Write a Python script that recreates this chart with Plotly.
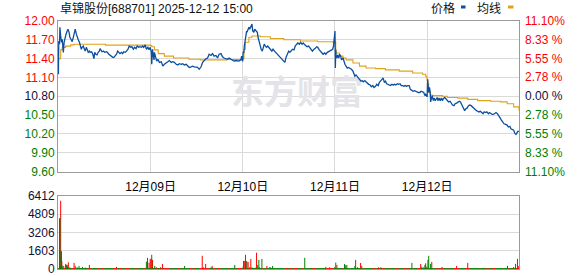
import plotly.graph_objects as go

# ---------------- data ----------------
TITLE = "卓锦股份[688701] 2025-12-12 15:00"
DAY_LABELS = ["12月09日", "12月10日", "12月11日", "12月12日"]
PREV_CLOSE = 10.80
MIN_PER_DAY = 241
N_DAYS = 5

PRICE_TICKS = [12.00, 11.70, 11.40, 11.10, 10.80, 10.50, 10.20, 9.90, 9.60]
PCT_TEXT = ["11.10%", "8.33 %", "5.55 %", "2.78 %", "0.00 %", "2.78 %", "5.55 %", "8.33 %", "11.10%"]
VOL_TICKS = [0, 1603, 3206, 4809, 6412]

# price samples per day: (minute of the trading day, price)
d1_min = [0, 1, 3, 4, 6, 8, 10, 11, 13, 15, 17, 20, 23, 25, 28, 30, 33, 36, 39, 42, 44, 47, 49, 52, 55, 57, 60, 62, 65, 68, 70, 73, 75, 78, 81, 83, 87, 90, 93, 95, 98, 101, 104, 107, 109, 112, 114, 118, 121, 125, 128, 132, 135, 139, 142, 145, 149, 152, 155, 158, 161, 165, 168, 171, 175, 178, 182, 185, 189, 192, 196, 199, 203, 206, 210, 213, 217, 220, 223, 227, 230, 234, 237, 240]
d1_price = [11.15, 11.68, 11.63, 11.90, 11.76, 11.66, 11.71, 11.60, 11.50, 11.66, 11.74, 11.79, 11.84, 11.87, 11.82, 11.74, 11.71, 11.67, 11.74, 11.84, 11.87, 11.79, 11.74, 11.70, 11.66, 11.60, 11.55, 11.58, 11.60, 11.55, 11.52, 11.58, 11.55, 11.50, 11.52, 11.50, 11.51, 11.47, 11.40, 11.50, 11.47, 11.46, 11.50, 11.52, 11.56, 11.52, 11.51, 11.52, 11.50, 11.51, 11.50, 11.47, 11.45, 11.43, 11.42, 11.42, 11.45, 11.47, 11.52, 11.50, 11.48, 11.50, 11.48, 11.51, 11.50, 11.52, 11.55, 11.60, 11.58, 11.59, 11.55, 11.58, 11.56, 11.60, 11.58, 11.59, 11.58, 11.60, 11.58, 11.62, 11.55, 11.58, 11.54, 11.58]

d2_min = [0, 2, 3, 5, 7, 9, 10, 13, 16, 19, 23, 28, 32, 36, 41, 45, 49, 54, 58, 62, 67, 71, 75, 80, 84, 88, 93, 97, 101, 106, 110, 114, 119, 123, 127, 132, 136, 140, 145, 149, 153, 158, 162, 166, 171, 175, 179, 184, 188, 192, 197, 201, 205, 210, 214, 218, 223, 227, 231, 236, 238, 240]
d2_price = [11.55, 11.50, 11.31, 11.55, 11.45, 11.38, 11.50, 11.44, 11.36, 11.39, 11.34, 11.35, 11.28, 11.31, 11.34, 11.35, 11.37, 11.34, 11.35, 11.34, 11.31, 11.30, 11.32, 11.31, 11.32, 11.30, 11.31, 11.28, 11.26, 11.27, 11.28, 11.27, 11.27, 11.26, 11.23, 11.27, 11.34, 11.37, 11.40, 11.41, 11.47, 11.45, 11.48, 11.44, 11.45, 11.41, 11.47, 11.48, 11.43, 11.41, 11.40, 11.39, 11.41, 11.39, 11.38, 11.36, 11.37, 11.36, 11.36, 11.38, 11.44, 11.37]

d3_min = [0, 1, 3, 4, 6, 8, 10, 11, 13, 16, 18, 21, 24, 26, 29, 31, 34, 38, 40, 43, 45, 48, 51, 53, 56, 59, 62, 65, 69, 72, 76, 79, 83, 86, 90, 93, 97, 100, 104, 107, 110, 113, 116, 120, 123, 127, 130, 134, 137, 141, 144, 148, 151, 155, 158, 162, 165, 168, 172, 175, 179, 182, 186, 189, 193, 196, 200, 203, 207, 210, 214, 217, 221, 224, 228, 231, 235, 237, 239, 240]
d3_price = [11.36, 11.50, 11.50, 11.60, 11.71, 11.79, 11.84, 11.82, 11.87, 11.90, 11.87, 11.92, 11.95, 11.84, 11.82, 11.87, 11.84, 11.82, 11.74, 11.66, 11.60, 11.55, 11.52, 11.58, 11.63, 11.60, 11.58, 11.60, 11.58, 11.55, 11.52, 11.55, 11.52, 11.50, 11.47, 11.45, 11.42, 11.39, 11.37, 11.35, 11.34, 11.42, 11.47, 11.52, 11.50, 11.52, 11.55, 11.54, 11.60, 11.63, 11.65, 11.63, 11.66, 11.63, 11.65, 11.62, 11.60, 11.59, 11.60, 11.58, 11.55, 11.52, 11.55, 11.56, 11.59, 11.58, 11.54, 11.52, 11.50, 11.47, 11.49, 11.47, 11.50, 11.51, 11.52, 11.54, 11.55, 11.60, 11.71, 11.71]

d4_min = [0, 1, 2, 3, 5, 7, 10, 12, 15, 17, 21, 23, 26, 29, 32, 35, 38, 41, 43, 47, 49, 52, 55, 58, 61, 64, 68, 71, 74, 78, 81, 85, 88, 92, 95, 99, 102, 106, 109, 113, 116, 120, 123, 126, 129, 132, 135, 139, 142, 145, 149, 152, 156, 159, 163, 166, 170, 173, 177, 180, 184, 187, 191, 194, 197, 201, 204, 208, 211, 215, 218, 222, 225, 229, 232, 235, 237, 240]
d4_price = [11.84, 11.25, 11.54, 11.44, 11.41, 11.46, 11.41, 11.47, 11.44, 11.38, 11.41, 11.36, 11.31, 11.28, 11.25, 11.26, 11.25, 11.25, 11.23, 11.20, 11.15, 11.12, 11.14, 11.11, 11.09, 11.07, 11.04, 11.05, 11.03, 11.05, 11.03, 11.00, 10.99, 10.98, 10.95, 10.97, 10.94, 10.96, 10.99, 10.97, 11.02, 11.05, 11.07, 11.09, 11.02, 11.04, 11.00, 10.99, 10.98, 10.97, 10.99, 10.98, 10.99, 10.98, 11.00, 10.99, 11.00, 10.97, 10.97, 10.96, 10.97, 10.96, 10.97, 10.97, 10.91, 10.89, 10.88, 10.89, 10.88, 10.86, 10.86, 10.86, 10.88, 10.87, 10.86, 10.81, 10.83, 10.80]

d5_min = [0, 1, 2, 4, 6, 8, 9, 11, 13, 16, 18, 21, 23, 26, 28, 31, 34, 37, 40, 42, 46, 49, 53, 56, 60, 63, 66, 70, 73, 77, 80, 84, 87, 91, 94, 98, 101, 104, 108, 111, 115, 118, 122, 125, 129, 132, 135, 139, 142, 146, 149, 153, 156, 160, 163, 167, 170, 173, 177, 180, 184, 187, 191, 194, 198, 201, 205, 209, 212, 216, 219, 223, 226, 229, 232, 235, 237, 240]
d5_price = [10.80, 11.07, 10.92, 10.86, 10.94, 10.86, 10.71, 10.76, 10.81, 10.73, 10.77, 10.73, 10.76, 10.78, 10.73, 10.77, 10.73, 10.77, 10.73, 10.76, 10.78, 10.76, 10.72, 10.71, 10.72, 10.68, 10.66, 10.65, 10.68, 10.69, 10.71, 10.72, 10.71, 10.65, 10.60, 10.57, 10.60, 10.61, 10.65, 10.66, 10.65, 10.63, 10.60, 10.59, 10.57, 10.56, 10.55, 10.56, 10.54, 10.52, 10.55, 10.54, 10.55, 10.52, 10.54, 10.52, 10.51, 10.51, 10.52, 10.54, 10.52, 10.48, 10.45, 10.42, 10.39, 10.36, 10.35, 10.34, 10.31, 10.32, 10.28, 10.26, 10.26, 10.21, 10.19, 10.22, 10.24, 10.24]

# average-price line samples per day
a1_min = [0, 3, 6, 10, 19, 32, 41, 118, 123, 240]
a1_val = [11.40, 11.40, 11.54, 11.58, 11.60, 11.62, 11.63, 11.63, 11.615, 11.615]
a2_min = [0, 3, 10, 20, 36, 60, 100, 130, 160, 200, 238, 240]
a2_val = [11.61, 11.59, 11.54, 11.48, 11.44, 11.41, 11.39, 11.38, 11.38, 11.385, 11.385, 11.40]
a3_min = [0, 3, 7, 16, 24, 46, 72, 107, 151, 196, 235, 240]
a3_val = [11.40, 11.55, 11.66, 11.74, 11.76, 11.75, 11.72, 11.70, 11.68, 11.67, 11.66, 11.66]
a4_min = [0, 2, 3, 12, 21, 29, 47, 64, 81, 106, 132, 168, 203, 229, 237, 240]
a4_val = [11.67, 11.54, 11.49, 11.44, 11.41, 11.38, 11.33, 11.28, 11.25, 11.24, 11.22, 11.20, 11.17, 11.15, 11.12, 11.09]
a5_min = [0, 2, 4, 8, 14, 40, 53, 80, 106, 132, 166, 192, 209, 226, 240]
a5_val = [11.06, 11.00, 10.86, 10.82, 10.81, 10.80, 10.78, 10.77, 10.75, 10.73, 10.72, 10.71, 10.68, 10.63, 10.57]

# notable volume bars: (global minute index, volume, 'r' up / 'g' down)
vol_minute = [3, 4, 6, 7, 8, 9, 10, 14, 19, 21, 23, 24, 26, 30, 41, 44, 49, 54, 56, 63, 71, 81, 95, 124, 152, 162,
              230, 233, 237, 240, 242, 244, 246, 252, 256, 261, 267, 272, 330, 359, 376, 379, 385, 399, 402, 438, 461,
              483, 484, 487, 489, 491, 493, 496, 500, 503, 506, 516, 518, 521, 524, 526, 532, 545, 552, 555, 560, 599, 615, 644,
              699, 709, 722, 725, 728, 733, 738, 748, 751, 754, 775, 777, 782, 790, 793, 837, 843, 845, 875, 924,
              935, 947, 950, 955, 958, 960, 963, 966, 968, 973, 976, 1003, 1041, 1070, 1114, 1174, 1190, 1195, 1200, 1202]
vol_value = [4450, 4450, 6000, 1550, 1550, 700, 300, 270, 450, 360, 360, 200, 590, 150, 535, 270, 150, 270, 90, 180, 120, 356, 90, 90, 180, 90,
             650, 980, 560, 890, 890, 1250, 800, 270, 150, 90, 150, 445, 270, 90, 1160, 150, 445, 150, 270, 90, 356,
             210, 710, 710, 1250, 710, 650, 620, 150, 890, 150, 120, 1430, 356, 800, 150, 890, 270, 150, 150, 270, 90, 90, 980,
             180, 150, 150, 565, 356, 90, 90, 445, 330, 356, 270, 800, 150, 535, 270, 150, 150, 90, 90, 535,
             90, 445, 210, 150, 356, 500, 210, 800, 1160, 445, 620, 180, 270, 535, 90, 270, 180, 445, 890, 270]
vol_dir = ['g', 'g', 'r', 'g', 'g', 'r', 'g', 'r', 'r', 'g', 'r', 'g', 'r', 'g', 'r', 'r', 'g', 'g', 'r', 'g', 'g', 'g', 'g', 'r', 'r', 'r',
           'g', 'g', 'r', 'r', 'r', 'g', 'r', 'g', 'r', 'g', 'r', 'r', 'g', 'g', 'r', 'r', 'r', 'r', 'r', 'g', 'g',
           'r', 'r', 'r', 'g', 'r', 'g', 'r', 'g', 'r', 'g', 'r', 'r', 'g', 'g', 'g', 'g', 'r', 'g', 'g', 'g', 'r', 'r', 'g',
           'g', 'r', 'g', 'g', 'r', 'r', 'g', 'g', 'r', 'g', 'g', 'r', 'r', 'r', 'r', 'r', 'g', 'r', 'g', 'g',
           'r', 'r', 'g', 'r', 'g', 'g', 'r', 'g', 'g', 'g', 'r', 'r', 'r', 'r', 'r', 'r', 'r', 'g', 'r', 'r']
BASE_VOL = 60  # small, unreadable per-minute volume along the bottom strip

# ---------------- build series ----------------
price_days = [(d1_min, d1_price), (d2_min, d2_price), (d3_min, d3_price), (d4_min, d4_price), (d5_min, d5_price)]
avg_days = [(a1_min, a1_val), (a2_min, a2_val), (a3_min, a3_val), (a4_min, a4_val), (a5_min, a5_val)]

px_x, px_y = [], []
for d, (mins, vals) in enumerate(price_days):
    px_x += [d * MIN_PER_DAY + m for m in mins]
    px_y += vals
av_x, av_y = [], []
for d, (mins, vals) in enumerate(avg_days):
    av_x += [d * MIN_PER_DAY + m for m in mins]
    av_y += vals

TOTAL = MIN_PER_DAY * N_DAYS
DAY_STARTS = [MIN_PER_DAY * (i + 1) for i in range(N_DAYS - 1)]
notable = {m: (v, c) for m, v, c in zip(vol_minute, vol_value, vol_dir)}
# direction of baseline bars follows the sampled price segment
seg_dir = []
j = 0
for m in range(TOTAL):
    while j < len(px_x) - 2 and px_x[j + 1] <= m:
        j += 1
    seg_dir.append('r' if px_y[j + 1] >= px_y[j] else 'g')

red_x, red_y, grn_x, grn_y = [], [], [], []
for m in range(TOTAL):
    v, c = notable.get(m, (BASE_VOL, seg_dir[m]))
    if c == 'r':
        red_x += [m, m, None]; red_y += [0, v, None]
    else:
        grn_x += [m, m, None]; grn_y += [0, v, None]

RED = "#ff0000"
GREEN = "#008000"
DARK = "#10103a"
GRID = "#dadada"

def tick_color(p):
    if p > PREV_CLOSE + 1e-9:
        return RED
    if p < PREV_CLOSE - 1e-9:
        return GREEN
    return DARK

left_text = [f'<span style="color:{tick_color(p)}">{p:.2f}</span>' for p in PRICE_TICKS]

# ---------------- figure ----------------
W, H = 578, 276
ML, MR, MT, MB = 58, 59, 21, 7
PW, PH = W - ML - MR, H - MT - MB

def py(ypix):  # pixel -> paper y
    return (H - MB - ypix) / PH

def pxp(xpix):  # pixel -> paper x
    return (xpix - ML) / PW

FONT = "Liberation Sans, Arial, Noto Sans CJK SC, sans-serif"
fig = go.Figure()

# watermark (drawn beneath the lines)
fig.add_trace(go.Scatter(x=[624], y=[10.81], mode="text", text=["<b>东方财富</b>"],
                         textfont=dict(size=33, color="#e4e4e8", family="Noto Sans CJK SC"),
                         hoverinfo="skip", showlegend=False, xaxis="x", yaxis="y"))

fig.add_trace(go.Scatter(x=av_x, y=av_y, mode="lines", line=dict(color="#e0a21c", width=1.1, shape="hv"),
                         hoverinfo="skip", showlegend=False, xaxis="x", yaxis="y"))
fig.add_trace(go.Scatter(x=px_x, y=px_y, mode="lines", line=dict(color="#0b4fa0", width=1.3),
                         hoverinfo="skip", showlegend=False, xaxis="x", yaxis="y"))

fig.add_trace(go.Scatter(x=red_x, y=red_y, mode="lines", line=dict(color=RED, width=1),
                         hoverinfo="skip", showlegend=False, xaxis="x2", yaxis="y2"))
fig.add_trace(go.Scatter(x=grn_x, y=grn_y, mode="lines", line=dict(color=GREEN, width=1),
                         hoverinfo="skip", showlegend=False, xaxis="x2", yaxis="y2"))

grid = dict(showgrid=True, gridcolor=GRID, griddash="solid", gridwidth=1)
frame = dict(showline=True, mirror=True, linecolor="#9a9a9a", linewidth=1, zeroline=False,
             automargin=False, layer="above traces")
XR = [-1, TOTAL - 1]
price_dom = [py(171.5), 1.0]
vol_dom = [0.0, py(196)]

fig.update_layout(
    width=W, height=H, margin=dict(l=ML, r=MR, t=MT, b=MB, autoexpand=False),
    paper_bgcolor="white", plot_bgcolor="white",
    font=dict(family=FONT, size=12, color="#000"),
    showlegend=False,
    xaxis=dict(domain=[0, 1], range=XR, anchor="y", tickmode="array",
               tickvals=DAY_STARTS, ticktext=DAY_LABELS,
               ticks="outside", ticklen=4, tickcolor="rgba(0,0,0,0)",
               tickfont=dict(size=12, color="#000", family=FONT), **grid, **frame),
    yaxis=dict(domain=price_dom, range=[PRICE_TICKS[-1], PRICE_TICKS[0]], anchor="x",
               tickmode="array", tickvals=PRICE_TICKS, ticktext=left_text,
               ticks="outside", ticklen=0, tickfont=dict(size=12, family=FONT), **grid, **frame),
    xaxis2=dict(domain=[0, 1], range=XR, anchor="y2", showticklabels=False, showgrid=False, **frame),
    yaxis2=dict(domain=vol_dom, range=[0, VOL_TICKS[-1]], anchor="x2", tickmode="array",
                tickvals=VOL_TICKS, ticktext=[str(v) for v in VOL_TICKS], ticklabeloverflow="allow",
                ticks="outside", ticklen=0, tickfont=dict(size=12, color=DARK, family=FONT),
                **grid, **frame),
)

annotations = [
    dict(text=TITLE, xref="paper", yref="paper", x=pxp(58), y=py(8.5), xanchor="left", yanchor="middle",
         showarrow=False, font=dict(size=12, color="#111", family=FONT)),
    dict(text="价格", xref="paper", yref="paper", x=pxp(442.5), y=py(8.5), xanchor="center", yanchor="middle",
         showarrow=False, font=dict(size=12, color="#111", family=FONT)),
    dict(text="均线", xref="paper", yref="paper", x=pxp(488.5), y=py(8.5), xanchor="center", yanchor="middle",
         showarrow=False, font=dict(size=12, color="#111", family=FONT)),
]
# right-hand percentage labels, one per price tick
for p, t in zip(PRICE_TICKS, PCT_TEXT):
    annotations.append(dict(text=t, xref="paper", yref="y", x=1, y=p, xanchor="left", yanchor="middle",
                            xshift=4, showarrow=False, font=dict(size=12, color=tick_color(p), family=FONT)))
fig.update_layout(annotations=annotations)

fig.update_layout(shapes=[
    dict(type="rect", xref="paper", yref="paper", x0=pxp(461), x1=pxp(465.5), y0=py(8.5), y1=py(5.5),
         fillcolor="#0b4fa0", line=dict(width=0)),
    dict(type="rect", xref="paper", yref="paper", x0=pxp(508), x1=pxp(513.5), y0=py(8.5), y1=py(5.5),
         fillcolor="#e0a21c", line=dict(width=0)),
])

fig.write_html("out.html", config={"displayModeBar": False})
